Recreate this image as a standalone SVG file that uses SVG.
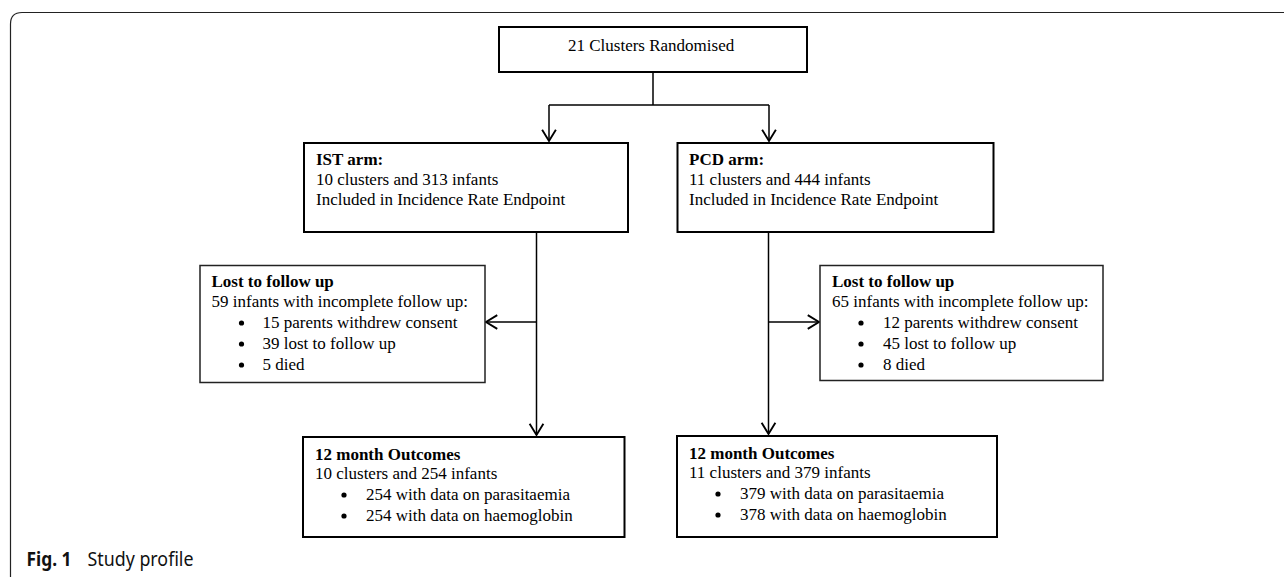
<svg xmlns="http://www.w3.org/2000/svg" width="1284" height="577" viewBox="0 0 1284 577">
<style>
  .box{fill:#fff;stroke:#000;stroke-width:2}
  .thin{fill:#fff;stroke:#222;stroke-width:1.5}
  .t{font-family:"Liberation Serif","Times New Roman",serif;font-size:17px;fill:#000}
  .b{font-weight:bold}
  .con{fill:none;stroke:#000;stroke-width:1.5}
  .dot{fill:#000}
  .cap{font-family:"Noto Sans","Open Sans",sans-serif;font-size:20px;fill:#111}
</style>
<defs>
  <marker id="arr" markerUnits="userSpaceOnUse" markerWidth="20" markerHeight="20" viewBox="-12 -8 14 16" refX="0" refY="0" orient="auto">
    <path d="M-9,-5.5 L0,0 L-9,5.5" fill="none" stroke="#000" stroke-width="1.5"/>
  </marker>
</defs>
<rect width="1284" height="577" fill="#fff"/>
<path d="M10.5,577 V24 Q10.5,12.5 22,12.5 H1284" fill="none" stroke="#222" stroke-width="1.2"/>

<g id="connectors">
  <path class="con" d="M653,72 V105"/>
  <path class="con" d="M549,105 H769"/>
  <path class="con" d="M549,105 V141" marker-end="url(#arr)"/>
  <path class="con" d="M769,105 V141" marker-end="url(#arr)"/>
  <path class="con" d="M536.5,232 V435" marker-end="url(#arr)"/>
  <path class="con" d="M536.5,322 H486" marker-end="url(#arr)"/>
  <path class="con" d="M768.5,232 V434" marker-end="url(#arr)"/>
  <path class="con" d="M768.5,322 H819" marker-end="url(#arr)"/>
</g>

<g id="n-randomised">
  <rect class="box" x="499" y="27" width="308" height="45"/>
  <text class="t" x="568" y="50.5">21 Clusters Randomised</text>
</g>

<g id="n-ist">
  <rect class="box" x="304" y="143" width="324" height="89"/>
  <text class="t b" x="316" y="165">IST arm:</text>
  <text class="t" x="316" y="184.5">10 clusters and 313 infants</text>
  <text class="t" x="316" y="205">Included in Incidence Rate Endpoint</text>
</g>

<g id="n-pcd">
  <rect class="box" x="677.5" y="143" width="316" height="89"/>
  <text class="t b" x="689" y="165">PCD arm:</text>
  <text class="t" x="689" y="184.5">11 clusters and 444 infants</text>
  <text class="t" x="689" y="205">Included in Incidence Rate Endpoint</text>
</g>

<g id="n-ist-lost">
  <rect class="thin" x="200" y="265.5" width="285" height="117"/>
  <text class="t b" x="211.5" y="287">Lost to follow up</text>
  <text class="t" x="211.5" y="307">59 infants with incomplete follow up:</text>
  <circle class="dot" cx="241.5" cy="323" r="2.6"/><text class="t" x="262.5" y="328">15 parents withdrew consent</text>
  <circle class="dot" cx="241.5" cy="344" r="2.6"/><text class="t" x="262.5" y="349">39 lost to follow up</text>
  <circle class="dot" cx="241.5" cy="365" r="2.6"/><text class="t" x="262.5" y="370">5 died</text>
</g>

<g id="n-pcd-lost">
  <rect class="thin" x="820" y="265.5" width="283" height="115"/>
  <text class="t b" x="832" y="287">Lost to follow up</text>
  <text class="t" x="832" y="307">65 infants with incomplete follow up:</text>
  <circle class="dot" cx="861" cy="323" r="2.6"/><text class="t" x="883" y="328">12 parents withdrew consent</text>
  <circle class="dot" cx="861" cy="344" r="2.6"/><text class="t" x="883" y="349">45 lost to follow up</text>
  <circle class="dot" cx="861" cy="365" r="2.6"/><text class="t" x="883" y="370">8 died</text>
</g>

<g id="n-ist-out">
  <rect class="box" x="303" y="437" width="321.5" height="100"/>
  <text class="t b" x="315" y="459.5">12 month Outcomes</text>
  <text class="t" x="315" y="479">10 clusters and 254 infants</text>
  <circle class="dot" cx="344" cy="495" r="2.6"/><text class="t" x="366" y="500">254 with data on parasitaemia</text>
  <circle class="dot" cx="344" cy="516" r="2.6"/><text class="t" x="366" y="521">254 with data on haemoglobin</text>
</g>

<g id="n-pcd-out">
  <rect class="box" x="677" y="436" width="320" height="101"/>
  <text class="t b" x="689" y="458.5">12 month Outcomes</text>
  <text class="t" x="689" y="478">11 clusters and 379 infants</text>
  <circle class="dot" cx="718" cy="494" r="2.6"/><text class="t" x="740" y="499">379 with data on parasitaemia</text>
  <circle class="dot" cx="718" cy="515" r="2.6"/><text class="t" x="740" y="520">378 with data on haemoglobin</text>
</g>

<g id="caption">
  <text class="cap" x="26.5" y="565.5"><tspan font-weight="bold" textLength="45" lengthAdjust="spacingAndGlyphs">Fig. 1</tspan><tspan x="87.5" textLength="106" lengthAdjust="spacingAndGlyphs">Study profile</tspan></text>
</g>
</svg>
